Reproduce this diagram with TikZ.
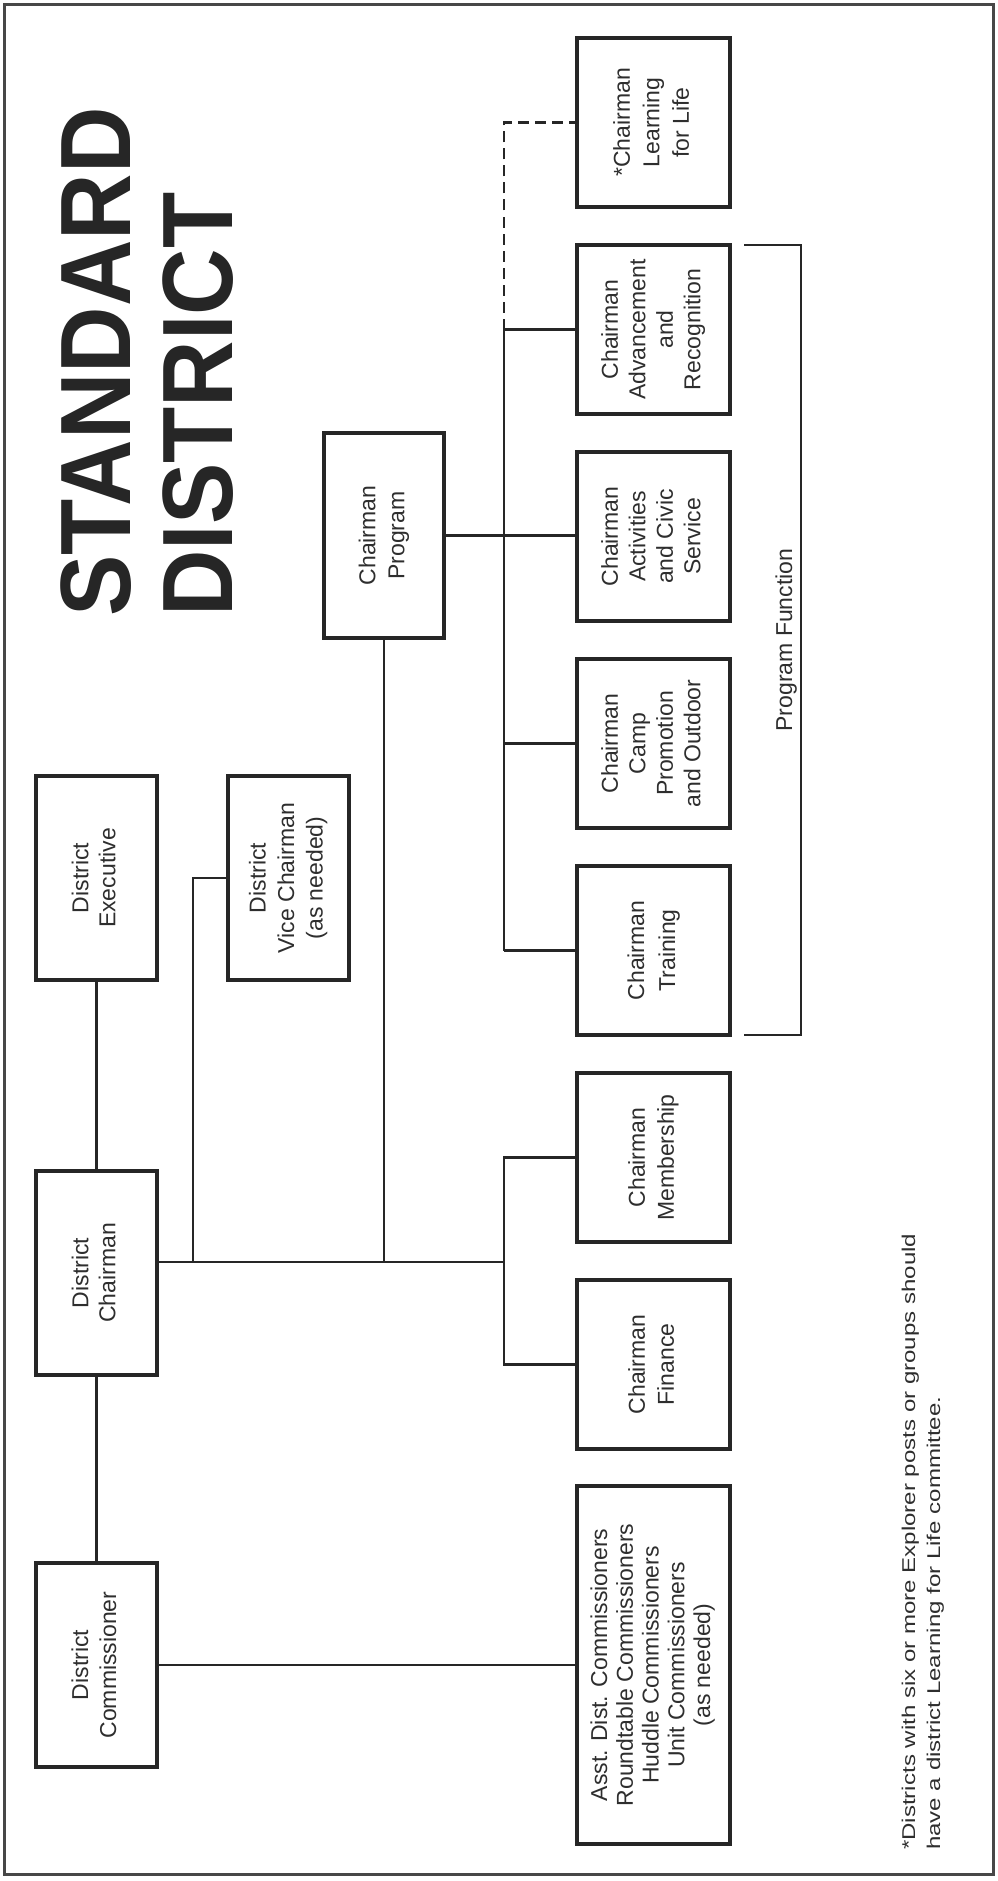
\documentclass[tikz,border=0pt]{standalone}
\usepackage{fontspec}
\setmainfont{Liberation Sans}
\definecolor{ink}{HTML}{262626}
\definecolor{txt}{HTML}{2E2E2E}
\newcommand\bxt[2][28]{\rotatebox{90}{\fontsize{23}{#1}\selectfont\begin{tabular}{@{}c@{}}#2\end{tabular}}}
\begin{document}
\begin{tikzpicture}[x=1pt,y=-1pt,
  orgbox/.style={draw=ink, line width=3.5pt, rectangle, inner sep=0pt, outer sep=0pt, anchor=north west, text=txt},
  rbox/.style={orgbox, minimum width=153pt, minimum height=169pt},
  lbox/.style={orgbox, minimum width=121pt, minimum height=204pt},
  conn/.style={draw=ink, line width=2.7pt},
  dashconn/.style={conn, dash pattern=on 11pt off 6pt},
  titletext/.style={rotate=90, anchor=base west, inner sep=0pt, text=ink, font=\fontsize{100}{100}\selectfont\bfseries},
  notetext/.style={rotate=90, anchor=base west, inner sep=0pt, text=txt, font=\fontsize{18.5}{25}\selectfont}
]
\useasboundingbox (0,0) rectangle (997,1881);
\draw[draw=ink!85, line width=3pt] (4.5,5) rectangle (993.5,1874.5);

% title
\node[titletext] (t1) at (130,617) {\scalebox{0.92}[1]{STANDARD}};
\node[titletext] (t2) at (232,617) {\scalebox{0.92}[1]{DISTRICT}};

% left column
\node[lbox] (exec) at (36,776) {\bxt[27]{District\\Executive}};
\node[lbox] (chair) at (36,1171) {\bxt[27]{District\\Chairman}};
\node[lbox] (comm) at (36,1563) {\bxt[28]{District\\Commissioner}};
\node[lbox] (vice) at (228,776) {\bxt[28.5]{District\\Vice Chairman\\(as needed)}};
\node[orgbox, minimum width=120pt, minimum height=205pt] (prog) at (324,433) {\bxt[29]{Chairman\\Program}};

% right column
\node[rbox] (lfl) at (577,38) {\bxt[29.5]{*Chairman\\Learning\\for Life}};
\node[rbox] (adv) at (577,245) {\bxt[27.5]{Chairman\\Advancement\\and\\Recognition}};
\node[rbox] (act) at (577,452) {\bxt[27.5]{Chairman\\Activities\\and Civic\\Service}};
\node[rbox] (camp) at (577,659) {\bxt[27.5]{Chairman\\Camp\\Promotion\\and Outdoor}};
\node[rbox] (train) at (577,866) {\bxt[31]{Chairman\\Training}};
\node[rbox] (memb) at (577,1073) {\bxt[29]{Chairman\\Membership}};
\node[rbox] (fin) at (577,1280) {\bxt[29]{Chairman\\Finance}};
\node[orgbox, minimum width=153pt, minimum height=358pt] (asst) at (577,1486) {\bxt[25.7]{Asst. Dist. Commissioners\\Roundtable Commissioners\\Huddle Commissioners\\Unit Commissioners\\(as needed)}};

% program function label
\node[rotate=90, anchor=base, inner sep=0pt, text=txt, font=\fontsize{23}{28}\selectfont] (pf) at (792,640) {Program Function};

% footnote
\node[notetext] (n1) at (915,1850) {\scalebox{1.3}[1]{*Districts with six or more Explorer posts or groups should}};
\node[notetext] (n2) at (940,1850) {\scalebox{1.3}[1]{have a district Learning for Life committee.}};

% junction coordinates
\coordinate (mb) at (504,1262);
\coordinate (vj) at (193,1262);

% connectors
\draw[conn] (exec.south) -- (chair.north);
\draw[conn] (chair.south) -- (comm.north);
\draw[conn] (comm.east) -- (asst.west);
\draw[conn] (chair.east |- mb) -- (mb);
\draw[conn] (vice.west) -| (vj);
\draw[conn] (prog.south) -- (prog.south |- mb);
\draw[conn] (memb.west) -- (memb.west -| mb) -- (fin.west -| mb) -- (fin.west);
\draw[conn] (prog.east) -- (prog.east -| act.west);
\draw[conn] (adv.west -| mb) -- (train.west -| mb);
\draw[conn] (adv.west) -- (adv.west -| mb);
\draw[conn] (camp.west) -- (camp.west -| mb);
\draw[conn] (train.west) -- (train.west -| mb);
\draw[dashconn] (adv.west -| mb) -- (lfl.west -| mb) -- (lfl.west);

% program function bracket
\draw[conn] ([xshift=14pt]adv.north east) -- ([xshift=71pt]adv.north east) -- ([xshift=71pt]train.south east) -- ([xshift=14pt]train.south east);
\end{tikzpicture}
\end{document}
